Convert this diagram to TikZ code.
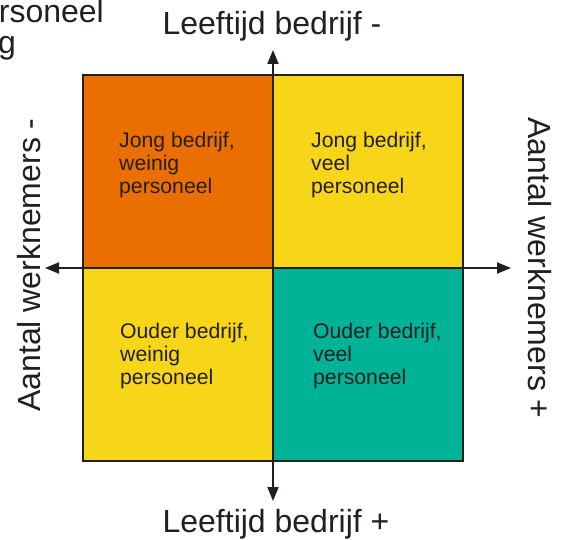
\documentclass[tikz,border=0pt]{standalone}
\usepackage{fontspec}
\setmainfont{Liberation Sans}
\usetikzlibrary{arrows.meta}
\definecolor{qorange}{RGB}{235,110,0}
\definecolor{qyellow}{RGB}{247,214,25}
\definecolor{qteal}{RGB}{0,178,150}
\definecolor{ink}{RGB}{35,31,32}
\tikzset{
  axislabel/.style={font=\fontsize{32}{34}\selectfont, text=ink, inner sep=0pt},
  quadtext/.style={font=\fontsize{21.2}{23.2}\selectfont, text=ink, align=left, inner sep=0pt, anchor=north west},
  axisarrow/.style={draw=ink, line width=2pt, -{Triangle[length=14pt,width=11pt]}},
}
\begin{document}
\begin{tikzpicture}[x=1pt,y=-1pt]
\useasboundingbox (0,0) rectangle (563,540);
% quadrants
\fill[qorange] (83,75) rectangle (273,268);
\fill[qyellow] (273,75) rectangle (463,268);
\fill[qyellow] (83,268) rectangle (273,461);
\fill[qteal] (273,268) rectangle (463,461);
\draw[ink, line width=2.5pt] (83,75) rectangle (463,461);
% axes
\coordinate (c) at (273,268);
\coordinate (top) at (273,50);
\coordinate (bottom) at (273,501);
\coordinate (left) at (45,268);
\coordinate (right) at (511,268);
\draw[axisarrow] (c) -- (top);
\draw[axisarrow] (c) -- (bottom);
\draw[axisarrow] (c) -- (left);
\draw[axisarrow] (c) -- (right);
% quadrant texts
\node[quadtext] (tl) at (119,131.5) {Jong bedrijf,\\weinig\\personeel};
\node[quadtext] (tr) at (311,131.5) {Jong bedrijf,\\veel\\personeel};
\node[quadtext] (bl) at (120,322.5) {Ouder bedrijf,\\weinig\\personeel};
\node[quadtext] (br) at (313,322.5) {Ouder bedrijf,\\veel\\personeel};
% axis labels
\node[axislabel, anchor=base] (ltop) at (272,35) {Leeftijd bedrijf -};
\node[axislabel, anchor=base] (lbottom) at (276,532) {Leeftijd bedrijf +};
\node[axislabel, anchor=base, rotate=90] (lleft) at (40,265) {Aantal werknemers -};
\node[axislabel, anchor=base, rotate=-90] (lright) at (528,268) {Aantal werknemers +};
% cut-off text at top left
\node[axislabel, anchor=base east] (frag1) at (104,23) {rsoneel};
\node[axislabel, anchor=base east] (frag2) at (16,54) {g};
\end{tikzpicture}
\end{document}
